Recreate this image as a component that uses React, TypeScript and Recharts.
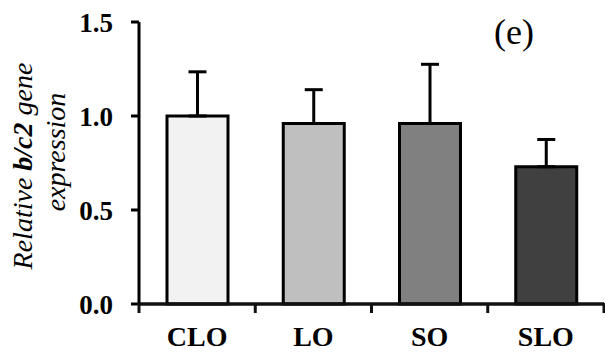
import { Bar, BarChart, XAxis, YAxis, ErrorBar, Cell, ReferenceLine } from "recharts"

const groups = ['CLO', 'LO', 'SO', 'SLO']
const means = [1.0, 0.96, 0.96, 0.73]
const sems = [0.235, 0.18, 0.315, 0.145]
const fills = ['#f2f2f2', '#bfbfbf', '#808080', '#404040']
const yTicks = [0, 0.5, 1.0, 1.5]

const data = groups.map((name, i) => ({
  name,
  mean: means[i],
  err: [0, sems[i]],
}))

const serif = 'Liberation Serif, serif'
const X_TICK_MARGIN = 22

// x ticks sit on the category boundaries, labels in the middle
function BottomTick(props: any) {
  const { x, y, payload, index, visibleTicksCount } = props
  const axisY = y - X_TICK_MARGIN
  const half = payload && payload.offset ? payload.offset : 58
  const isLast = index === visibleTicksCount - 1
  return (
    <g>
      <line x1={x - half} x2={x - half} y1={axisY - 1} y2={axisY + 9} stroke="#111" strokeWidth={3} />
      {isLast && (
        <line x1={x + half} x2={x + half} y1={axisY - 1} y2={axisY + 9} stroke="#111" strokeWidth={3} />
      )}
      <text
        x={x}
        y={y}
        dy="0.71em"
        textAnchor="middle"
        fill="#000"
        style={{ fontFamily: serif, fontSize: 28, fontWeight: 'bold' }}
      >
        {payload.value}
      </text>
    </g>
  )
}

function YLabel() {
  return (
    <g style={{ fontFamily: serif, fontStyle: 'italic', fontSize: 28 }} fill="#000">
      <text x={32} y={166} textAnchor="middle" transform="rotate(-90 32 166)">
        Relative <tspan fontWeight="bold">b/c2</tspan> gene
      </text>
      <text x={65} y={152} textAnchor="middle" transform="rotate(-90 65 152)">
        expression
      </text>
    </g>
  )
}

export default function App() {
  return (
    <div style={{ position: 'absolute', left: 0, top: 0, width: 605, height: 353, background: '#fff' }}>
      <BarChart
        width={605}
        height={353}
        data={data}
        margin={{ top: 22, right: 1, bottom: 0, left: 0 }}
        barCategoryGap={0}
      >
        <XAxis
          dataKey="name"
          height={49}
          axisLine={{ stroke: '#111', strokeWidth: 3 }}
          tickLine={false}
          tickSize={0}
          tickMargin={X_TICK_MARGIN}
          interval={0}
          tick={<BottomTick />}
        />
        <YAxis
          domain={[0, 1.5]}
          ticks={yTicks}
          width={139}
          tickSize={8}
          tickMargin={18}
          tickFormatter={(v: number) => v.toFixed(1)}
          axisLine={{ stroke: '#000', strokeWidth: 3 }}
          tickLine={{ stroke: '#000', strokeWidth: 3 }}
          tick={{ fill: '#000', fontSize: 27, fontWeight: 'bold', fontFamily: serif }}
          label={{ content: () => <YLabel /> }}
        />
        <Bar
          dataKey="mean"
          barSize={61}
          stroke="#000"
          strokeWidth={3}
          isAnimationActive={false}
        >
          {data.map((d, i) => (
            <Cell key={d.name} fill={fills[i]} />
          ))}
          <ErrorBar dataKey="err" direction="y" width={9} stroke="#000" strokeWidth={3} />
        </Bar>
        <ReferenceLine y={0} stroke="#111" strokeWidth={3} ifOverflow="visible" />
      </BarChart>
      <div
        style={{
          position: 'absolute',
          left: 494,
          top: 14,
          fontFamily: serif,
          fontSize: 36,
          lineHeight: '36px',
          color: '#000',
        }}
      >
        (e)
      </div>
    </div>
  )
}
